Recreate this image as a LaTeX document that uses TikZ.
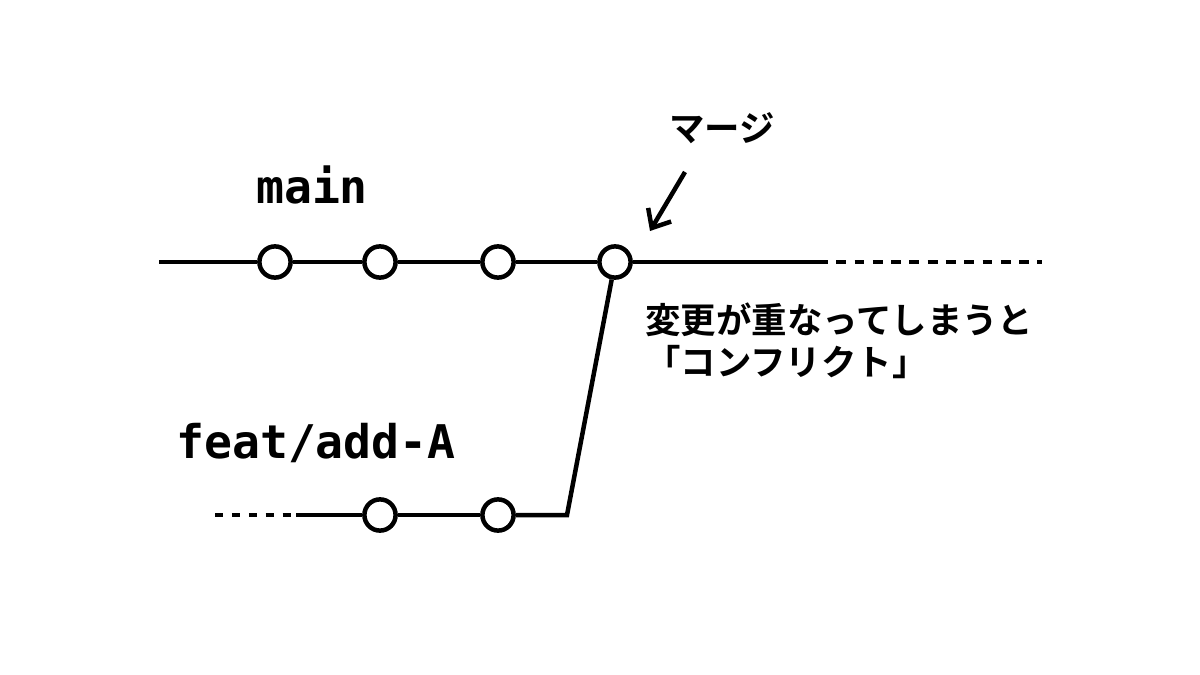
\documentclass[tikz,border=0pt]{standalone}
\usepackage{fontspec}
\setmonofont{DejaVu Sans Mono}
\newfontfamily\jpfont{Noto Sans CJK JP}[BoldFont={* Bold}]
\usetikzlibrary{arrows.meta}
\tikzset{
  commit/.style={circle,draw,fill=white,line width=3.2pt,minimum size=0.78cm,inner sep=0pt},
  branch/.style={line width=3.2pt},
  later/.style={line width=3.2pt,dash pattern=on 7pt off 6pt},
  before/.style={line width=3.2pt,dash pattern=on 6pt off 6pt},
  brname/.style={font=\ttfamily\bfseries\fontsize{33}{36}\selectfont},
  jptext/.style={font=\jpfont\bfseries\fontsize{25.2}{27.5}\selectfont}
}
\begin{document}
\begin{tikzpicture}[x=0.025cm,y=-0.025cm]
         \useasboundingbox (0,0) rectangle (1200,675);
         % main
         \coordinate (mstart) at (159,262);
         \coordinate (mend) at (818,262);
         \coordinate (mfar) at (1042,262);
         \node[commit] (m1) at (275,262) {};
         \node[commit] (m2) at (380,262) {};
         \node[commit] (m3) at (498,262) {};
         \node[commit] (m4) at (615,262) {};
         \draw[branch] (mstart) -- (m1) (m1) -- (m2) (m2) -- (m3) (m3) -- (m4) (m4) -- (mend);
         \draw[later] (mend) -- (mfar);
         \node[brname] (mainlbl) at (312,185) {main};
         % feat/add-A
         \coordinate (ffar) at (215,515);
         \coordinate (fstart) at (296,515);
         \coordinate (fturn) at (567,515);
         \node[commit] (f1) at (380,515) {};
         \node[commit] (f2) at (498,515) {};
         \draw[before] (ffar) -- (fstart);
         \draw[branch] (fstart) -- (f1) (f1) -- (f2);
         \draw[branch] (f2) -- (fturn) -- (m4);
         \node[brname] (featlbl) at (316,443) {feat/add-A};
         % merge
         \node[jptext] (merge) at (722,128) {マージ};
         \coordinate (atip) at (650,231);
         \draw[line width=3.2pt,-{Straight Barb[length=11pt,width=19pt,line width=3.2pt]}] (685,172) -- (atip);
         \node[jptext,anchor=north west,align=left,inner sep=0pt] (conflict) at (645,303)
         {変更が重なってしまうと\\[2pt]「コンフリクト」};
   \end{tikzpicture}
\end{document}
